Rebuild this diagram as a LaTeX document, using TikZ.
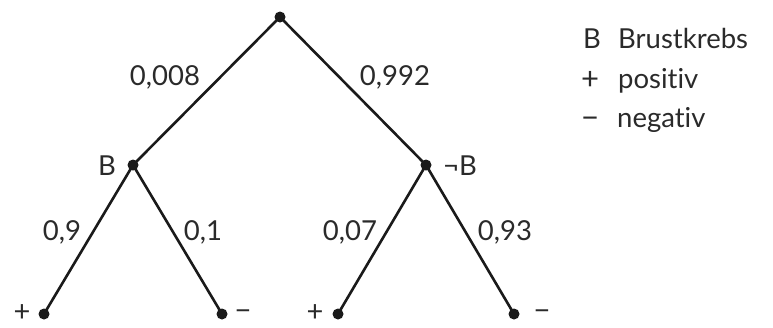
\documentclass[tikz,border=0pt]{standalone}
\usepackage{fontspec}
\setmainfont[Ligatures={NoCommon,NoRequired,NoContextual}]{Lato}
\definecolor{ink}{HTML}{1A1A1A}
\definecolor{txt}{HTML}{2A2A2A}
\begin{document}
\begin{tikzpicture}[x=1pt,y=-1pt,
  dot/.style={circle,fill=ink,inner sep=0pt,minimum size=11pt},
  edge/.style={draw=ink,line width=2.6pt},
  lab/.style={anchor=base,inner sep=0pt,text=txt,font=\fontsize{27.5}{32}\selectfont},
  sym/.style={anchor=center,inner sep=0pt,text=txt,font=\fontsize{29}{32}\selectfont},
  leg/.style={anchor=base west,inner sep=0pt,text=txt,font=\fontsize{27.5}{32}\selectfont}]
\useasboundingbox (0,0) rectangle (773,327);
% tree nodes
\node[dot] (r) at (280,17) {};
\node[dot] (b) at (133,165) {};
\node[dot] (nb) at (426,165) {};
\node[dot] (l1) at (44,314) {};
\node[dot] (l2) at (222,314) {};
\node[dot] (l3) at (338,314) {};
\node[dot] (l4) at (514,314) {};
% edges
\draw[edge] (r.center) -- (b.center);
\draw[edge] (r.center) -- (nb.center);
\draw[edge] (b.center) -- (l1.center);
\draw[edge] (b.center) -- (l2.center);
\draw[edge] (nb.center) -- (l3.center);
\draw[edge] (nb.center) -- (l4.center);
% probability labels
\node[lab] (p1) at (165,85) {0,008};
\node[lab] (p2) at (395,85) {0,992};
\node[lab] (p3) at (62,240) {0,9};
\node[lab] (p4) at (203,240) {0,1};
\node[lab] (p5) at (350,240) {0,07};
\node[lab] (p6) at (505,240) {0,93};
% node labels
\node[lab] (tb) at (107,175) {B};
\node[lab] (tnb) at (460,175) {¬B};
\node[sym] (t1) at (22,313) {+};
\node[sym] (t2) at (243,315) {−};
\node[sym] (t3) at (315,313) {+};
\node[sym] (t4) at (542,315) {−};
% legend
\node[leg] (g1) at (583,48) {B};
\node[leg] (g1t) at (618,48) {Brustkrebs};
\node[leg,font=\fontsize{31}{34}\selectfont] (g2) at (581,89) {+};
\node[leg] (g2t) at (618,88) {positiv};
\node[leg,font=\fontsize{31}{34}\selectfont] (g3) at (581,128) {−};
\node[leg] (g3t) at (617,127) {negativ};
\end{tikzpicture}
\end{document}
